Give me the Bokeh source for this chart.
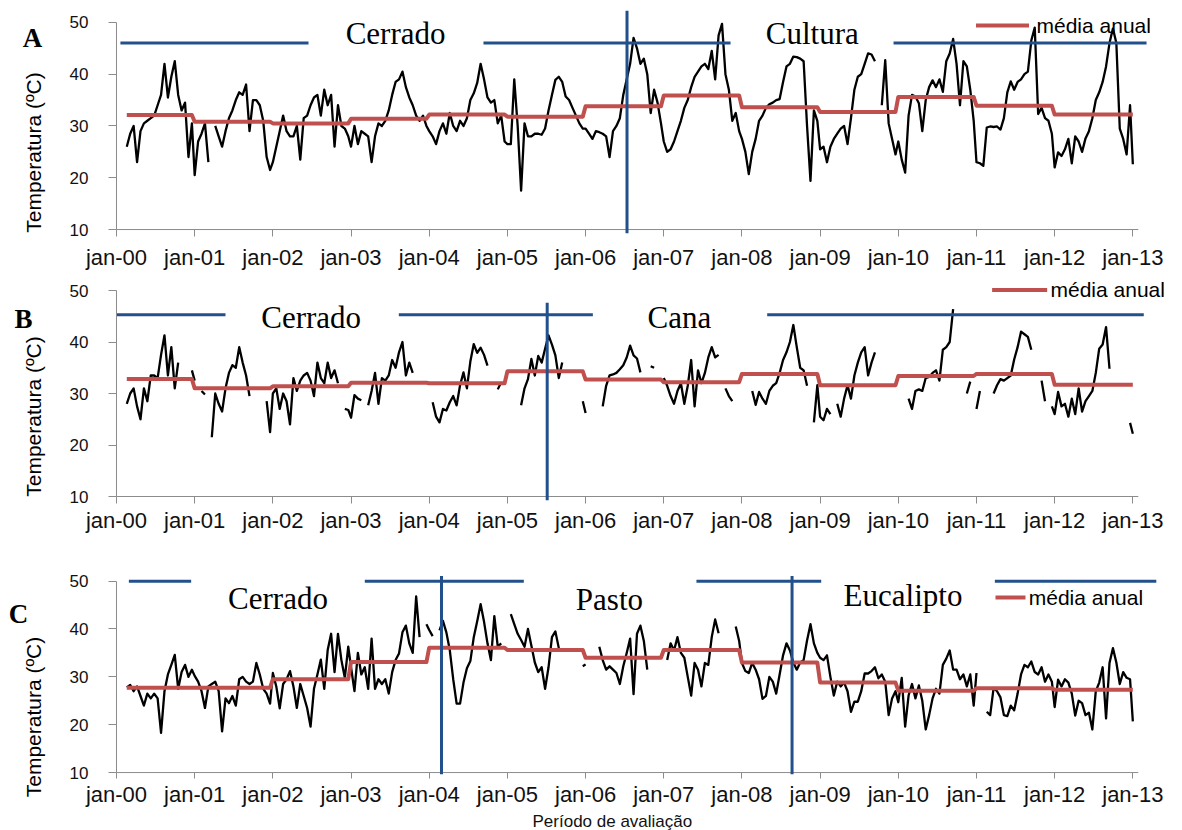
import math
import numpy as np
from bokeh.plotting import figure
from bokeh.layouts import column, row
from bokeh.models import FixedTicker, Range1d, Span, Title
from bokeh.core.properties import value
from bokeh.embed import file_html
from bokeh.resources import INLINE

nan = float("nan")

# ---------------- data ----------------
years = [2000, 2001, 2002, 2003, 2004, 2005, 2006, 2007, 2008, 2009, 2010, 2011, 2012]
tick_years = [2000, 2001, 2002, 2003, 2004, 2005, 2006, 2007, 2008, 2009, 2010, 2011, 2012, 2013]
tick_labels = ["jan-00", "jan-01", "jan-02", "jan-03", "jan-04", "jan-05", "jan-06",
               "jan-07", "jan-08", "jan-09", "jan-10", "jan-11", "jan-12", "jan-13"]
# 16-day composite days of year
composite_doy = [1, 17, 33, 49, 65, 81, 97, 113, 129, 145, 161, 177, 193, 209, 225,
                 241, 257, 273, 289, 305, 321, 337, 353]
first_doy_2000 = 49

# Panel A: Cerrado -> Cultura
temp_A = [
    26, 28.5, 30, 23, 29, 30.5, 31, 31.5, 32, 34, 36, 42, 35.5, 39.5, 42.5, 36, 33, 34.5, 24, 30.5,
    20.5, 27, 28.5, 30.5, 23, nan, 30, 28, 26, 29, 31.5, 33, 35, 36.5, 36, 38, 29, 35, 35, 34, 31, 24, 21.5,
    23, 26, 29, 32, 29, 28, 28, 30, 23.5, 31.5, 32, 34, 35.5, 36, 32, 37, 34, 36, 26, 34, 30, 29.5, 28,
    26, 30, 26.5, 29, 28.5, 28, 23, 28, 30.5, 30, 31, 33, 36, 38.5, 39, 40.5, 37.5, 35.5, 34, 32, 31, 32, 30,
    29, 28, 26.5, 29, 30.5, 28.5, 32.5, 30, 29, 31, 30, 31.5, 35, 36.3, 38.3, 42, 39, 35.5, 34.5, 35, 30.5, 32, 27,
    26.5, 26.5, 39, 30, 17.5, 30.5, 28, 28, 28.5, 28.5, 28.3, 29.5, 33, 36, 38.9, 39.5, 38.5, 35.7, 35, 33.5, 32, 30.5, 29.5,
    29.5, 28.5, 27.5, 29, 28.8, 28.5, 28, 24, 29, 30, 31.5, 36, 39, 42, 47, 45, 42, 43, 40, 32.5, 37, 34.5, 30.5,
    27, 25, 25.5, 27, 29, 31, 33.5, 35, 37.5, 39.5, 40.5, 41.5, 42, 41, 44.5, 39, 47.5, 49.7, 40, 37, 31, 32.5, 29,
    27.5, 25, 20.7, 25, 27.5, 31, 32, 33.5, 34.2, 34.5, 35, 35.2, 38.5, 41.5, 42, 43.4, 43.3, 43, 42.5, 30, 19.4, 33, 31,
    25.5, 26, 23, 26, 27.5, 28.5, 29.5, 30, 26.5, 31.5, 37, 39.5, 40, 42, 44, 43.8, 42.5, nan, 34, 42.7, 30.5, 27.5, 24.5,
    27, 23.5, 21, 32, 36, 35.7, 34.4, 29, 35, 37.5, 38.8, 37.5, 39, 36.6, 42.5, 44, 46.8, 42, 34, 42.5, 41.5, 37, 31,
    23, 22.8, 22.3, 29.7, 29.9, 29.8, 29.9, 29.3, 31.5, 36.5, 38.6, 37, 38.5, 39, 40, 40.5, 46.5, 49, 32.3, 33.5, 31.5, 31, 28.5,
    22, 24.9, 24.2, 25.5, 27.5, 22.8, 28, 27, 25, 27.6, 29, 31.5, 35, 36.5, 38.5, 41.5, 46, 48.8, 46, 29.5, 27.5, 24.5, 34, 22.6,
]
mean_A = [32.1, 30.8, 30.5, 31.4, 32.2, 31.8, 33.8, 35.9, 33.6, 32.7, 35.6, 33.9, 32.2]

# Panel B: Cerrado -> Cana
temp_B = [
    28, 30, 31, 27.5, 25, 31, 28.5, 33.5, 33.5, 33, 37.5, 41.3, 33.5, 39, 31, 36, nan, nan, nan, 34.5,
    32.5, nan, 30.5, 29.8, nan, 21.5, 30, 28, 26.5, 31, 34, 35.5, 35, 39, 36, 33.5, 29.5, nan, nan, nan, nan, 28.5, 22.5,
    30, 31, 27, 30, 28.5, 24, 33, 30.5, 32.5, 33.5, 34, 32.5, 29.5, 36, 33, 32, 36, 33, 34.5, 32, nan, 27, 26.8,
    25.3, 29.7, 29, 28.7, nan, 27.7, 30.5, 34, 28, 33, 32.5, 33.5, 36.5, 35, 38, 40, 33.5, 36, 34, nan, nan, nan, nan,
    nan, 28.3, 25.5, 24.4, 27, 26.7, 28.3, 29.5, 27.7, 31.6, 34.1, 31, 36.2, 39.6, 37.9, 38.9, 37.5, 35.4, nan, nan, 30.8, 32.2, nan,
    nan, nan, nan, nan, 27.7, 31, 32.8, 36.7, 33.5, 37.3, 36, 38.7, 41.3, 39.5, 37.4, 33, 36, nan, nan, nan, nan, nan, 28.5,
    26.2, nan, nan, nan, nan, 27.5, 31.5, 33.5, 33.7, 34, 34.7, 35.5, 37, 39.3, 37.4, 36.8, 34.1, nan, nan, 35.3, 35, nan, nan,
    33, 31.5, 29.5, 28, 30.5, 32, 28, 31.5, 36.5, 27.5, 34.5, 32, 34, 37, 39, 37, 37.5, nan, 31, 29.5, 28.5, nan, nan,
    nan, nan, nan, 30.5, 27.8, 30.3, 29, 28, 30.5, 31.5, 32, 34, 36.5, 38, 40, 43.3, 39, 35, 34.5, 31.5, nan, 24.4, 31.6,
    25.5, 24.8, 27, 26, nan, 28, 25.5, 29, 31.6, 29, 33.5, 36, 38, 39, 33.5, 36, 38, nan, nan, nan, nan, nan, nan,
    nan, nan, nan, 29, 27, 30.5, 30.8, 30.5, 33, 33.2, 34, 34.5, 32.5, 38.5, 39, 40, 46.4, nan, nan, nan, 30, 32.3, nan,
    27, 30.5, nan, nan, nan, 30, 31.6, 32.8, 32.5, 33, 33.5, 36.6, 39, 42, 41.5, 41, 38.5, nan, nan, 32.5, 28.5, nan, 27.5,
    26, 30.3, 27.5, 28, 25.5, 29, 26, 31, 26.5, 28.5, 29.5, 30.5, 34, 38.7, 39.5, 42.9, 34.8, nan, nan, nan, nan, nan, 24.3, 22.2,
]
mean_B = [32.8, 31.0, 31.4, 32.1, 32.0, 34.3, 32.7, 32.2, 33.8, 31.6, 33.4, 33.8, 31.7]

# Panel C: Cerrado -> Pasto -> Eucalipto
temp_C = [
    27.8, 28.3, 27, 28, 26, 24, 26.5, 25.5, 26.5, 25.5, 18.3, 27, 30.5, 32.5, 34.6, 27.5, 31, 32.5, 30, 31.5,
    30.2, 29, 27, 23.5, 28, 28.5, 29, 27, 18.6, 25.5, 24.5, 26, 24, 29.5, 30, 29, 28.5, 29, 32.9, 30.5, 27.5, 26.5, 24.4,
    30.8, 28, 23.4, 28.5, 29.5, 31.2, 28, 23.5, 28.5, 26, 23.5, 19.6, 27.5, 30.5, 33.6, 27.5, 35.6, 39, 31, 39, 33.5, 29.8, 36.3,
    32, 27, 35, 30.5, 32, 27.5, 38, 27.5, 29.5, 28.5, 29.5, 26.5, 31, 33.5, 34.9, 39.3, 40.7, 37, 35, 46.8, 38.3, nan, 41,
    39.8, 38.5, nan, 39.7, 41.7, 39.3, 35.6, 29.5, 24.4, 24.4, 28.8, 31.8, 33.3, 38.3, 41.6, 45.2, 41.5, 37, 33.5, 42.7, 36.3, 37, nan,
    nan, 43.1, 41, 39, 37.7, 36.3, 40, 36.5, 33, 31, 32, 27.5, 32, 38.3, 39.5, 36, nan, nan, nan, nan, nan, nan, 32.2,
    32.6, nan, nan, nan, 36.3, 33.5, 31.5, 32.2, 31.5, 30.8, 28.5, 32.2, 35, 38, 26.4, 39, 40.7, 37.5, 31.5, nan, nan, nan, nan,
    nan, 33.5, 37, 35.5, 38.3, 35, 34, 30, 26.1, 32.9, 31.5, 28, 32.9, 32.5, 38.3, 42, 39.1, nan, nan, nan, nan, 40.5, 37.5,
    32.9, 31.2, 30.8, 32.9, 31.5, 29.5, 25.4, 26, 30, 29, 26.5, 30.5, 34.5, 37, 35.5, 33, 31.5, 33, 33.5, 37.6, 41, 37, 35,
    34, 33.5, 34.5, 30, 26.1, 29, 28, 28.8, 27, 22.7, 24.8, 24.8, 27, 30.7, 30.7, 31.2, 32, 29.7, 30.5, 29, 22, 25.5, 27,
    24.7, 29.8, 19.6, 26.1, 28.5, 25.5, 28.2, 25, 19, 22, 25.5, 27.5, 26.5, 32.5, 33.8, 35.5, 31.5, 31.5, 29.5, 30.5, 28, 30.5, 24,
    30.8, nan, nan, 22.7, 22, 27.7, 27, 25.7, 22, 21.8, 24, 23, 26.5, 30.5, 32.5, 32, 33.2, 31, 30.5, 32, 29, 30.5, 29,
    23.7, 29.4, 28, 29.5, 28.8, 26.5, 21.9, 25, 24.5, 22, 22.5, 19, 27, 28.8, 32, 21.3, 32.9, 36, 33, 28.5, 31, 29.8, 29.5, 20.7,
]
mean_C = [27.7, 27.7, 29.5, 33.1, 36.1, 35.6, 34.0, 35.6, 33.0, 28.8, 27.1, 27.6, 27.3]

panel_letters = ["A", "B", "C"]
y_title = "Temperatura (ºC)"
x_title = "Período de avaliação"
legend_label = "média anual"

# ---------------- styling helpers ----------------
BLACK = "#000000"
RED = "#C0504D"
BLUE = "#22508C"
AXIS_GRAY = "#8C8C8C"
SANS = "Liberation Sans"
SERIF = "Liberation Serif"
STRIP_W = 60
MAIN_W = 1120


def composite_dates():
    xs, yrs = [], []
    for y in years:
        for d in composite_doy:
            if y == years[0] and d < first_doy_2000:
                continue
            xs.append(y + (d - 1) / 365.0)
            yrs.append(y)
    xs.append(float(tick_years[-1]))
    yrs.append(years[-1])
    return np.array(xs), yrs


X, YR = composite_dates()


def fit(vals):
    v = list(vals)[: len(X)]
    v += [nan] * (len(X) - len(v))
    return np.array(v, dtype=float)


X_END = 2000 + 1060 / 78.18


def make_panel(height, top, bottom, ppu, top_pad, bot_pad, tick_in, tick_out, standoff):
    ymin = 10 - bot_pad / ppu
    ymax = 50 + top_pad / ppu
    p = figure(width=MAIN_W, height=height, output_backend="svg", toolbar_location=None,
               x_range=Range1d(2000, X_END), y_range=Range1d(ymin, ymax),
               min_border_left=56, min_border_right=4, min_border_top=top,
               min_border_bottom=bottom)
    p.outline_line_color = None
    p.xgrid.visible = False
    p.ygrid.visible = False

    p.yaxis.bounds = (10, 50)
    p.yaxis.ticker = FixedTicker(ticks=[10, 20, 30, 40, 50])
    p.yaxis.axis_line_color = AXIS_GRAY
    p.yaxis.major_tick_line_color = AXIS_GRAY
    p.yaxis.major_tick_out = 8
    p.yaxis.major_tick_in = 0
    p.yaxis.minor_tick_line_color = None
    p.yaxis.major_label_standoff = 20
    p.yaxis.major_label_text_font = SANS
    p.yaxis.major_label_text_font_size = "17px"
    p.yaxis.major_label_text_color = "#111111"

    p.xaxis.ticker = FixedTicker(ticks=tick_years)
    p.xaxis.major_label_overrides = {t: l for t, l in zip(tick_years, tick_labels)}
    p.xaxis.axis_line_color = None
    p.xaxis.major_tick_line_color = AXIS_GRAY
    p.xaxis.major_tick_in = tick_in
    p.xaxis.major_tick_out = tick_out
    p.xaxis.minor_tick_line_color = None
    p.xaxis.major_label_standoff = standoff
    p.xaxis.major_label_text_font = SANS
    p.xaxis.major_label_text_font_size = "22px"
    p.xaxis.major_label_text_color = "#111111"

    # x axis line at 10, ending just after jan-13
    p.segment(x0=[2000], y0=[10], x1=[2013.07], y1=[10], line_color=AXIS_GRAY, line_width=1)
    return p


def add_series(p, temps, means):
    y = fit(temps)
    mean_map = dict(zip(years, means))
    m = np.array([mean_map[yy] for yy in YR])
    p.line(X, y, line_color=BLACK, line_width=2.3, line_join="round")
    p.line(X, m, line_color=RED, line_width=4, line_join="round")


def hline(p, x0, x1, y):
    p.segment(x0=[x0], y0=[y], x1=[x1], y1=[y], line_color=BLUE, line_width=3)


def vline(p, x, y0, y1):
    p.segment(x0=[x], y0=[y0], x1=[x], y1=[y1], line_color=BLUE, line_width=3)


def serif_text(p, x, y, s):
    p.text(x=[x], y=[y], text=[s], text_font=value(SERIF), text_font_size="31px",
           text_align="center", text_baseline="middle", text_color="#000000")


def legend(p, x0, x1, y, tx):
    p.segment(x0=[x0], y0=[y], x1=[x1], y1=[y], line_color=RED, line_width=4)
    p.text(x=[tx], y=[y], text=[legend_label], text_font=value(SANS), text_font_size="21px",
           text_align="left", text_baseline="middle", text_color="#000000")


# ---------------- panel A ----------------
pA = make_panel(272, 10, 37, 5.225, 12, 4, 4, 3, 8)
add_series(pA, temp_A, mean_A)
hline(pA, 2000.05, 2002.456, 46.0)
hline(pA, 2004.694, 2007.854, 46.0)
hline(pA, 2009.939, 2013.175, 46.0)
pA.add_layout(Span(location=2006.53, dimension="height", line_color=BLUE, line_width=3))
serif_text(pA, 2003.57, 47.9, "Cerrado")
serif_text(pA, 2008.90, 47.9, "Cultura")
legend(pA, 2010.994, 2011.672, 49.4, 2011.768)

# ---------------- panel B ----------------
pB = make_panel(273, 4, 45, 5.15, 14, 4, 4, 3, 4)
add_series(pB, temp_B, mean_B)
hline(pB, 2000.0, 2001.394, 45.3)
hline(pB, 2003.611, 2006.093, 45.3)
hline(pB, 2008.323, 2013.14, 45.3)
vline(pB, 2005.509, 47.6, 10 - 4 / 5.15)
serif_text(pB, 2002.49, 44.8, "Cerrado")
serif_text(pB, 2007.20, 44.8, "Cana")
legend(pB, 2011.20, 2011.904, 50.1, 2011.947)

# ---------------- panel C ----------------
pC = make_panel(285, 21, 51, 4.9, 15, 2, 2, 4, 3)
add_series(pC, temp_C, mean_C)
hline(pC, 2000.158, 2000.955, 50.0)
hline(pC, 2003.176, 2005.21, 50.0)
hline(pC, 2007.418, 2009.014, 50.0)
hline(pC, 2011.235, 2013.30, 50.0)
vline(pC, 2004.157, 51.1, 10 - 2 / 4.9)
vline(pC, 2008.641, 51.1, 10 - 2 / 4.9)
serif_text(pC, 2002.066, 46.3, "Cerrado")
serif_text(pC, 2006.305, 46.1, "Pasto")
serif_text(pC, 2010.06, 47.1, "Eucalipto")
legend(pC, 2011.243, 2011.627, 46.6, 2011.668)
pC.add_layout(Title(text=x_title, align="left", offset=416, standoff=0,
                    text_font=SANS, text_font_size="17px", text_font_style="normal",
                    text_color="#111111"), "below")

# ---------------- left strip: panel letters and y titles ----------------
strip = figure(width=STRIP_W, height=830, output_backend="svg", toolbar_location=None,
               x_range=Range1d(0, STRIP_W), y_range=Range1d(0, 830),
               x_axis_type=None, y_axis_type=None,
               min_border_left=0, min_border_right=0, min_border_top=0, min_border_bottom=0)
strip.outline_line_color = None
strip.xgrid.visible = False
strip.ygrid.visible = False
# page pixel positions (x, y from top)
letter_pos = [(32, 37.5), (23, 318), (18, 613)]
ytitle_pos = [(32.5, 152), (32.5, 416), (32.5, 716.5)]
strip.text(x=[p[0] for p in letter_pos], y=[830 - p[1] for p in letter_pos], text=panel_letters,
           text_font=value(SERIF), text_font_style="bold", text_font_size="27px",
           text_align="center", text_baseline="middle", text_color="#000000")
strip.text(x=[p[0] for p in ytitle_pos], y=[830 - p[1] for p in ytitle_pos],
           text=[y_title] * 3, angle=math.pi / 2,
           text_font=value(SANS), text_font_size="21px",
           text_align="center", text_baseline="middle", text_color="#000000")

layout = row(strip, column(pA, pB, pC, spacing=0), spacing=0)
open("out.html", "w").write(file_html(layout, INLINE))
